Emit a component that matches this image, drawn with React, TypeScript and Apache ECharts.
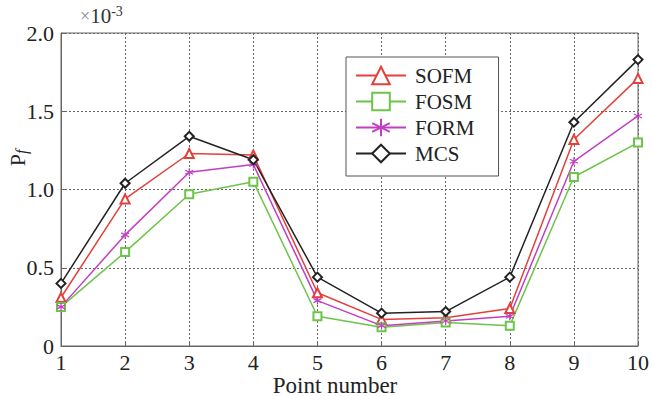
import React, { useEffect, useRef } from "react";
import * as echarts from "echarts";

const pointNumbers = ["1", "2", "3", "4", "5", "6", "7", "8", "9", "10"];
const sofm = [0.31, 0.94, 1.23, 1.22, 0.34, 0.17, 0.18, 0.24, 1.32, 1.71];
const fosm = [0.25, 0.6, 0.97, 1.05, 0.19, 0.12, 0.15, 0.13, 1.08, 1.3];
const form = [0.25, 0.71, 1.11, 1.16, 0.29, 0.13, 0.16, 0.19, 1.18, 1.47];
const mcs = [0.4, 1.04, 1.34, 1.19, 0.44, 0.21, 0.22, 0.44, 1.43, 1.83];

const FONT = "Liberation Serif";
const ASTERISK =
  "path://M0,-10 L0,10 M-8.7,-5 L8.7,5 M-8.7,5 L8.7,-5";

export default function App() {
  const ref = useRef<HTMLDivElement>(null);
  useEffect(() => {
    if (!ref.current) return;
    const chart = echarts.init(ref.current, null, { renderer: "svg" });
    const mk = (name: string, data: number[], color: string, symbol: string, size: number) => ({
      name,
      type: "line",
      data,
      symbol,
      symbolSize: size,
      color,
      lineStyle: { color, width: 1.5 },
      itemStyle: { color, borderColor: color, borderWidth: 1.2 },
      z: 3,
    });
    chart.setOption({
      animation: false,
      backgroundColor: "#fff",
      textStyle: { fontFamily: FONT },
      grid: {
        left: 61,
        right: 2,
        top: 33,
        bottom: 50,
        show: true,
        borderColor: "#666",
        borderWidth: 1,
      },
      legend: {
        orient: "vertical",
        left: 346,
        top: 57,
        itemWidth: 50,
        itemHeight: 22,
        itemGap: 5,
        padding: [8, 24, 12, 9],
        borderColor: "#555",
        borderWidth: 1,
        backgroundColor: "#fff",
        textStyle: { fontFamily: FONT, fontSize: 21, color: "#222", padding: [0, 0, 0, 4] },
        data: ["SOFM", "FOSM", "FORM", "MCS"],
      },
      xAxis: {
        type: "category",
        data: pointNumbers,
        boundaryGap: false,
        axisLine: { lineStyle: { color: "#666" } },
        axisTick: { inside: true, length: 5, lineStyle: { color: "#666" } },
        axisLabel: { fontFamily: FONT, fontSize: 22, color: "#222", margin: 5 },
        splitLine: { show: true, lineStyle: { type: [2, 2], color: "#666", width: 1 } },
      },
      yAxis: {
        type: "value",
        min: 0,
        max: 2,
        interval: 0.5,
        axisLine: { show: true, lineStyle: { color: "#666" } },
        axisTick: { show: true, inside: true, length: 5, lineStyle: { color: "#666" } },
        axisLabel: {
          fontFamily: FONT,
          fontSize: 22,
          color: "#222",
          margin: 7,
          formatter: (v: number) => (v === 0 ? "0" : v.toFixed(1)),
        },
        splitLine: { show: true, lineStyle: { type: [2, 2], color: "#666", width: 1 } },
      },
      graphic: [
        {
          type: "text",
          left: 80,
          top: 4,
          style: {
            text: "{x|×}10{sup|-3}",
            fontFamily: FONT,
            fontSize: 21,
            fill: "#333",
            rich: {
              x: { fontSize: 18, fontFamily: FONT, fill: "#888" },
              sup: { fontSize: 14, fontFamily: FONT, fill: "#333", padding: [0, 0, 10, 0] },
            },
          },
        },
        {
          type: "text",
          x: 17,
          y: 158,
          rotation: Math.PI / 2,
          style: {
            text: "P{sub|f}",
            fontFamily: FONT,
            fontSize: 22,
            fill: "#222",
            align: "center",
            verticalAlign: "middle",
            rich: { sub: { fontSize: 16, fontStyle: "italic", fontFamily: FONT, fill: "#222", padding: [8, 0, 0, 0] } },
          },
        },
        {
          type: "text",
          x: 335,
          y: 385,
          style: {
            text: "Point number",
            fontFamily: FONT,
            fontSize: 23,
            fill: "#222",
            align: "center",
            verticalAlign: "middle",
          },
        },
      ],
      series: [
        mk("SOFM", sofm, "#e2403a", "emptyTriangle", 9),
        mk("FOSM", fosm, "#6cc449", "emptyRect", 8),
        mk("FORM", form, "#c23fc2", ASTERISK, 8),
        mk("MCS", mcs, "#222222", "emptyDiamond", 9),
      ],
    });
    return () => chart.dispose();
  }, []);
  return <div ref={ref} style={{ width: 652, height: 396, position: "absolute", left: 0, top: 0 }} />;
}
